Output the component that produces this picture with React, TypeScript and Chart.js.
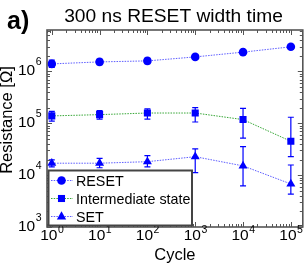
import React, { useEffect, useRef } from 'react';
import { Chart, registerables } from 'chart.js';

Chart.register(...registerables);

// ---------- data ----------
const cycles = [1, 10, 100, 1000, 10000, 100000];

const resetValues = [1.4e6, 1.53e6, 1.6e6, 1.91e6, 2.36e6, 2.99e6];
const resetLow = [1.2e6, 1.36e6, 1.42e6, 1.75e6, 2.15e6, 2.72e6];
const resetHigh = [1.65e6, 1.72e6, 1.8e6, 2.08e6, 2.56e6, 3.25e6];

const interValues = [1.39e5, 1.47e5, 1.58e5, 1.58e5, 1.18e5, 4.5e4];
const interLow = [1.1e5, 1.2e5, 1.2e5, 1.06e5, 5.2e4, 2.27e4];
const interHigh = [1.7e5, 1.75e5, 1.9e5, 2.0e5, 1.95e5, 1.31e5];

const setValues = [1.7e4, 1.7e4, 1.82e4, 2.27e4, 1.51e4, 6.76e3];
const setLow = [1.44e4, 1.39e4, 1.44e4, 1.12e4, 6.2e3, 4.3e3];
const setHigh = [1.97e4, 2.1e4, 2.38e4, 3.2e4, 3.55e4, 1.57e4];

const xTickExponents = [0, 1, 2, 3, 4, 5];
const yTickExponents = [3, 4, 5, 6];
const seriesLabels = ['RESET', 'Intermediate state', 'SET'];
const titleText = '300 ns RESET width time';
const panelLabel = 'a)';
const xTitle = 'Cycle';
const yTitle = 'Resistance [Ω]';

const X_MIN = Math.pow(10, -0.1);
const X_MAX = Math.pow(10, 5.25);
const Y_MIN = 1e3;
const Y_MAX = Math.pow(10, 6.8);

const FONT = '"Liberation Sans", Arial, sans-serif';
const BLUE = '#0000ff';
const LINE_BLUE = 'rgba(40,40,255,0.75)';
const LINE_GREEN = 'rgba(20,150,20,0.85)';

const errorLows = [resetLow, interLow, setLow];
const errorHighs = [resetHigh, interHigh, setHigh];
const lineColors = [LINE_BLUE, LINE_GREEN, LINE_BLUE];
const markerStyles = ['circle', 'rect', 'triangle'];
const markerRadii = [4.3, 5, 5.2];

function drawMarker(ctx: CanvasRenderingContext2D, style: string, x: number, y: number, r: number) {
  ctx.beginPath();
  if (style === 'circle') {
    ctx.arc(x, y, r, 0, Math.PI * 2);
  } else if (style === 'rect') {
    const s = r * Math.SQRT1_2;
    ctx.rect(x - s, y - s, 2 * s, 2 * s);
  } else {
    ctx.moveTo(x, y - r);
    ctx.lineTo(x + r * 0.9, y + r * 0.6);
    ctx.lineTo(x - r * 0.9, y + r * 0.6);
    ctx.closePath();
  }
  ctx.fill();
}

const decorPlugin = {
  id: 'decor',
  beforeDatasetsDraw(chart: any) {
    const ctx = chart.ctx as CanvasRenderingContext2D;
    const xs = chart.scales.x;
    const ys = chart.scales.y;
    ctx.save();
    ctx.strokeStyle = BLUE;
    ctx.lineWidth = 1.2;
    for (let d = 0; d < 3; d++) {
      for (let j = 0; j < cycles.length; j++) {
        const px = xs.getPixelForValue(cycles[j]);
        const y1 = ys.getPixelForValue(errorLows[d][j]);
        const y2 = ys.getPixelForValue(errorHighs[d][j]);
        ctx.beginPath();
        ctx.moveTo(px, y1);
        ctx.lineTo(px, y2);
        ctx.moveTo(px - 3, y1);
        ctx.lineTo(px + 3, y1);
        ctx.moveTo(px - 3, y2);
        ctx.lineTo(px + 3, y2);
        ctx.stroke();
      }
    }
    ctx.restore();
  },
  afterDraw(chart: any) {
    const ctx = chart.ctx as CanvasRenderingContext2D;
    const xs = chart.scales.x;
    const ys = chart.scales.y;
    const a = chart.chartArea;
    ctx.save();

    // inward ticks on all four sides
    ctx.strokeStyle = '#555';
    ctx.lineWidth = 1;
    for (let e = -1; e <= 5; e++) {
      for (let m = 1; m <= 9; m++) {
        const v = m * Math.pow(10, e);
        if (v < X_MIN || v > X_MAX) continue;
        const px = Math.round(xs.getPixelForValue(v)) + 0.5;
        const len = m === 1 ? 5 : 3;
        ctx.beginPath();
        ctx.moveTo(px, a.bottom);
        ctx.lineTo(px, a.bottom - len);
        ctx.moveTo(px, a.top);
        ctx.lineTo(px, a.top + len);
        ctx.stroke();
      }
    }
    for (let e = 3; e <= 6; e++) {
      for (let m = 1; m <= 9; m++) {
        const v = m * Math.pow(10, e);
        if (v < Y_MIN || v > Y_MAX) continue;
        const py = Math.round(ys.getPixelForValue(v)) + 0.5;
        const len = m === 1 ? 5 : 3;
        ctx.beginPath();
        ctx.moveTo(a.left, py);
        ctx.lineTo(a.left + len, py);
        ctx.moveTo(a.right, py);
        ctx.lineTo(a.right - len, py);
        ctx.stroke();
      }
    }

    // frame
    ctx.strokeStyle = '#555';
    ctx.lineWidth = 1.6;
    ctx.strokeRect(a.left, a.top, a.right - a.left, a.bottom - a.top);

    // tick labels
    ctx.fillStyle = '#000';
    ctx.textBaseline = 'alphabetic';
    const mainFont = `15.5px ${FONT}`;
    const supFont = `10.5px ${FONT}`;
    xTickExponents.forEach((e) => {
      const px = xs.getPixelForValue(Math.pow(10, e));
      ctx.font = mainFont;
      const w1 = ctx.measureText('10').width;
      ctx.font = supFont;
      const w2 = ctx.measureText(String(e)).width;
      const start = px - (w1 + w2) / 2;
      ctx.font = mainFont;
      ctx.textAlign = 'left';
      ctx.fillText('10', start, 240);
      ctx.font = supFont;
      ctx.fillText(String(e), start + w1 + 0.5, 233);
    });
    yTickExponents.forEach((e) => {
      const py = ys.getPixelForValue(Math.pow(10, e));
      ctx.font = supFont;
      const w2 = ctx.measureText(String(e)).width;
      const right = 41.5;
      ctx.textAlign = 'left';
      ctx.fillText(String(e), right - w2, py - 6);
      ctx.font = mainFont;
      ctx.textAlign = 'right';
      ctx.fillText('10', right - w2 - 0.5, py + 4);
    });

    // axis titles
    ctx.font = `16.5px ${FONT}`;
    ctx.textAlign = 'center';
    ctx.fillText(xTitle, (a.left + a.right) / 2, 260);
    ctx.save();
    ctx.translate(12, 120);
    ctx.rotate(-Math.PI / 2);
    ctx.fillText(yTitle, 0, 0);
    ctx.restore();

    // title
    ctx.font = `19.2px ${FONT}`;
    ctx.textAlign = 'center';
    ctx.fillText(titleText, 173.5, 22);
    ctx.font = `bold 25px ${FONT}`;
    ctx.textAlign = 'left';
    ctx.fillText(panelLabel, 7, 29);

    // legend
    const lx = 48.5, ly = 170.5, lw = 143.5, lh = 55;
    ctx.fillStyle = '#fff';
    ctx.fillRect(lx, ly, lw, lh);
    ctx.strokeStyle = '#444';
    ctx.lineWidth = 2;
    ctx.strokeRect(lx, ly, lw, lh);
    const rows = [180.5, 198.5, 216.5];
    for (let i = 0; i < 3; i++) {
      const ry = rows[i];
      ctx.strokeStyle = lineColors[i];
      ctx.lineWidth = 1;
      ctx.setLineDash([1.5, 1.2]);
      ctx.beginPath();
      ctx.moveTo(51, ry);
      ctx.lineTo(73, ry);
      ctx.stroke();
      ctx.setLineDash([]);
      ctx.fillStyle = BLUE;
      drawMarker(ctx, markerStyles[i], 61.5, ry, markerRadii[i]);
      ctx.fillStyle = '#000';
      ctx.font = `14.3px ${FONT}`;
      ctx.textAlign = 'left';
      ctx.fillText(seriesLabels[i], 76, ry + 5);
    }
    ctx.restore();
  },
};

export default function App() {
  const ref = useRef<HTMLCanvasElement | null>(null);
  useEffect(() => {
    if (!ref.current) return;
    const mk = (vals: number[]) => cycles.map((c, i) => ({ x: c, y: vals[i] }));
    const valueSets = [resetValues, interValues, setValues];
    const chart = new Chart(ref.current, {
      type: 'line',
      data: {
        datasets: valueSets.map((vals, i) => ({
          label: seriesLabels[i],
          data: mk(vals),
          borderColor: lineColors[i],
          borderWidth: 1,
          borderDash: [1.5, 1.2],
          backgroundColor: BLUE,
          pointBackgroundColor: BLUE,
          pointBorderColor: BLUE,
          pointBorderWidth: 0,
          pointStyle: markerStyles[i] as any,
          pointRadius: markerRadii[i],
          tension: 0,
          fill: false,
        })),
      },
      options: {
        animation: false,
        responsive: false,
        devicePixelRatio: 1,
        layout: { padding: { top: 30, right: 4, left: 0, bottom: 0 } },
        plugins: {
          legend: { display: false },
          title: { display: false },
          tooltip: { enabled: false },
        },
        scales: {
          x: {
            type: 'logarithmic',
            min: X_MIN,
            max: X_MAX,
            grid: { display: false },
            border: { display: false },
            ticks: { display: false },
            afterFit: (s: any) => { s.height = 48; },
          },
          y: {
            type: 'logarithmic',
            min: Y_MIN,
            max: Y_MAX,
            grid: { display: false },
            border: { display: false },
            ticks: { display: false },
            afterFit: (s: any) => { s.width = 47; },
          },
        },
      },
      plugins: [decorPlugin],
    });
    return () => chart.destroy();
  }, []);
  return (
    <div style={{ position: 'fixed', left: 0, top: 0, width: 308, height: 275, background: '#fff' }}>
      <canvas ref={ref} width={308} height={275} style={{ width: 308, height: 275 }} />
    </div>
  );
}
